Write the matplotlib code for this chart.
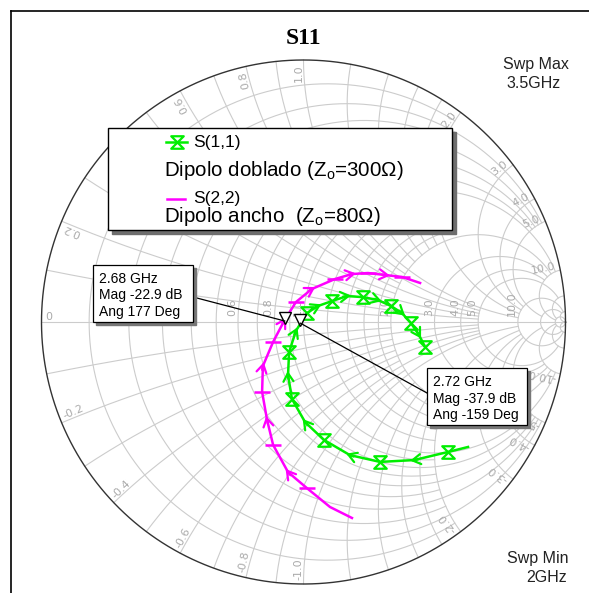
import numpy as np
import matplotlib
matplotlib.use('Agg')
import matplotlib.pyplot as plt
from matplotlib.patches import Rectangle
from matplotlib.path import Path

plt.rcParams['font.family'] = ['Liberation Sans', 'DejaVu Sans']
plt.rcParams['mathtext.fontset'] = 'custom'
plt.rcParams['mathtext.rm'] = 'Liberation Sans'

# S(1,1) trace, reflection coefficient (2 -> 3.5 GHz)
s11_re = [0.628, 0.552, 0.422, 0.292, 0.177, 0.078, 0.006, -0.044, -0.059, -0.055, -0.029,
          0.013, 0.055, 0.109, 0.166, 0.227, 0.284, 0.334, 0.376, 0.410, 0.441, 0.464]
s11_im = [-0.477, -0.496, -0.527, -0.534, -0.508, -0.450, -0.382, -0.294, -0.202, -0.115, -0.034,
          0.034, 0.061, 0.080, 0.099, 0.095, 0.084, 0.061, 0.034, -0.004, -0.050, -0.095]

# S(2,2) trace
s22_re = [0.185, 0.101, 0.013, -0.059, -0.116, -0.139, -0.158, -0.155, -0.116, -0.074,
          -0.029, 0.032, 0.120, 0.185, 0.246, 0.315, 0.376, 0.445]
s22_im = [-0.748, -0.706, -0.634, -0.573, -0.469, -0.374, -0.267, -0.168, -0.076, 0.004,
          0.076, 0.126, 0.164, 0.183, 0.187, 0.179, 0.172, 0.149]

# markers: freq, mag dB, angle deg
mk_freq = ['2.68 GHz', '2.72 GHz']
mk_mag = [-22.9, -37.9]
mk_ang = [177, -159]

r_levels = [0.1, 0.2, 0.3, 0.4, 0.5, 0.6, 0.7, 0.8, 0.9, 1.0, 1.2, 1.4, 1.6, 1.8,
            2.0, 3.0, 4.0, 5.0, 10.0, 20.0, 50.0]
r_limits = [2, 5, 2, 5, 2, 5, 2, 5, 2, 10, 2, 2, 2, 2, 10, 10, 10, 20, 50, 50, np.inf]
r_labels = [0.6, 0.8, 1.0, 2.0, 3.0, 4.0, 5.0, 10.0]
x_labels = [0, 0.2, 0.4, 0.6, 0.8, 1.0, 2.0, 3.0, 4.0, 5.0, 10.0,
            -0.2, -0.4, -0.6, -0.8, -1.0, -2.0, -3.0, -4.0, -5.0, -10.0]

GREEN = '#00ee00'
MAGENTA = '#ff00ff'
GRID = '#cccccc'
LAB = '#aaaaaa'

CX, CY, R = 303.5, 322.0, 262.0


def px(x, y):
    return ((x - CX) / R, (CY - y) / R)


def gam(z):
    return (z - 1) / (z + 1)


fig = plt.figure(figsize=(5.89, 5.93), dpi=100)
ax = fig.add_axes([0, 0, 1, 1])
ax.set_xlim(px(0, 0)[0], px(589, 0)[0])
ax.set_ylim(px(0, 593)[1], px(0, 0)[1])
ax.axis('off')

# frame
x0, y0 = px(11, 11)
x1, y1 = px(589, 593)
ax.plot([x0, x0], [y0, y1], color='black', lw=1.2)
ax.plot([x0, x1], [y0, y0], color='black', lw=1.2)

# grid
for r, lim in zip(r_levels, r_limits):
    t = np.linspace(-np.arctan(lim), np.arctan(lim), 800)
    g = gam(r + 1j * np.tan(t))
    ax.plot(g.real, g.imag, color=GRID, lw=0.8, zorder=1)
    for s in (1, -1):
        t = np.linspace(0, np.arctan(lim), 800)
        g = gam(np.tan(t) + 1j * s * r)
        ax.plot(g.real, g.imag, color=GRID, lw=0.8, zorder=1)
ax.plot([-1, 1], [0, 0], color=GRID, lw=0.8, zorder=1)
th = np.linspace(0, 2 * np.pi, 720)
ax.plot(np.cos(th), np.sin(th), color='#333333', lw=1.0, zorder=2)

for r in r_labels:
    g = (r - 1) / (r + 1)
    ax.annotate('%.1f' % r, xy=(g, 0), xytext=(-0.5, 4), textcoords='offset points',
                rotation=90, ha='left', va='bottom', rotation_mode='anchor',
                fontsize=8, color=LAB, family='DejaVu Sans', zorder=1)

for x in x_labels:
    a = np.angle(gam(1j * x)) if x != 0 else np.pi
    p = 0.985 * np.exp(1j * a)
    lab = '0' if x == 0 else '%.1f' % x
    if x > 0:
        rot, ha = np.degrees(a), 'right'
    else:
        rot, ha = np.degrees(a) + 180, 'left'
    ax.text(p.real, p.imag, lab, rotation=rot, ha=ha, va='bottom', rotation_mode='anchor',
            fontsize=8, color=LAB, family='DejaVu Sans', zorder=1)

# traces
hourglass = Path([(-1, 1), (1, 1), (-1, -1), (1, -1), (-1, 1)],
                 [Path.MOVETO, Path.LINETO, Path.LINETO, Path.LINETO, Path.CLOSEPOLY])
ax.plot(s11_re, s11_im, color=GREEN, lw=1.8, zorder=3, marker=hourglass, ms=9,
        mfc='none', mec=GREEN, mew=1.6, markevery=slice(1, None, 2))
ax.plot(s22_re, s22_im, color=MAGENTA, lw=1.8, zorder=3, marker='_', ms=11,
        mec=MAGENTA, mew=1.8, markevery=slice(2, None, 2))


def arrows(re, im, start, col):
    pts = np.array([re, im]).T
    for i in range(start, len(pts) - 1, 2):
        d = pts[i + 1] - pts[i - 1]
        d = d / np.hypot(*d)
        ax.annotate('', xy=pts[i] + d * 0.015, xytext=pts[i] - d * 0.015,
                    arrowprops=dict(arrowstyle='->,head_length=0.5,head_width=0.3', color=col,
                                    lw=1.6, shrinkA=0, shrinkB=0, mutation_scale=12), zorder=3)


arrows(s11_re, s11_im, 2, GREEN)
arrows(s22_re, s22_im, 3, MAGENTA)

# markers and their boxes
mk = [10 ** (m / 20) * np.exp(1j * np.radians(a)) for m, a in zip(mk_mag, mk_ang)]
for g in mk:
    ax.plot(g.real, g.imag + 0.012, marker='v', ms=9, mfc='white', mec='black', mew=1.0, zorder=5)

boxes = [(93, 265, 193, 322), (427, 368, 527, 425)]
ends = [px(193, 297), px(427, 393)]
for (bx0, by0, bx1, by1), e, g, f, m, a in zip(boxes, ends, mk, mk_freq, mk_mag, mk_ang):
    ax.plot([e[0], g.real], [e[1], g.imag], color='black', lw=0.9, zorder=5)
    lx, ly = px(bx0, by1)
    w, h = (bx1 - bx0) / R, (by1 - by0) / R
    ax.add_patch(Rectangle((lx + 3 / R, ly - 3 / R), w, h, color='#777777', zorder=6))
    ax.add_patch(Rectangle((lx, ly), w, h, fc='white', ec='black', lw=0.9, zorder=6))
    lines = [f, 'Mag %.1f dB' % m, 'Ang %d Deg' % a]
    for k, s in enumerate(lines):
        tx, ty = px(bx0 + 6, by0 + 14 + 16.5 * k)
        ax.text(tx, ty, s, fontsize=10, ha='left', va='center', zorder=7)

# legend
lx, ly = px(108, 230)
w, h = (452 - 108) / R, (230 - 128) / R
ax.add_patch(Rectangle((lx + 4 / R, ly - 4 / R), w, h, color='#6e6e6e', zorder=6))
ax.add_patch(Rectangle((lx, ly), w, h, fc='white', ec='black', lw=1.0, zorder=6))
a0, b0 = px(166, 142)
a1, _ = px(187, 142)
ax.plot([a0, a1], [b0, b0], color=GREEN, lw=1.8, zorder=7)
ax.plot([(a0 + a1) / 2], [b0], color=GREEN, marker=hourglass, ms=9, mfc='none', mew=1.6, zorder=7)
a0, b0 = px(167, 199)
a1, _ = px(185, 199)
ax.plot([a0, a1], [b0, b0], color=MAGENTA, lw=1.8, zorder=7)
t = px(193, 142)
ax.text(t[0], t[1], 'S(1,1)', fontsize=12.5, ha='left', va='center', zorder=7)
t = px(193, 199)
ax.text(t[0], t[1], 'S(2,2)', fontsize=12.5, ha='left', va='center', zorder=7)
t = px(164, 170)
ax.text(t[0], t[1], r'Dipolo doblado (Z$_{\mathrm{o}}$=300Ω)', fontsize=14.8, ha='left',
        va='center', zorder=7)
t = px(164, 217)
ax.text(t[0], t[1], r'Dipolo ancho  (Z$_{\mathrm{o}}$=80Ω)', fontsize=14.8, ha='left',
        va='center', zorder=7)

# titles
t = px(303.5, 38)
ax.text(t[0], t[1], 'S11', fontsize=17, fontweight='bold', family='Liberation Serif',
        ha='center', va='center')
for s, (x, y) in [('Swp Max', (536, 65)), ('3.5GHz', (534, 83)),
                  ('Swp Min', (538, 559)), ('2GHz', (547, 578))]:
    t = px(x, y)
    ax.text(t[0], t[1], s, fontsize=11.5, ha='center', va='center', color='#222222')

fig.savefig('out.png', dpi=100)
